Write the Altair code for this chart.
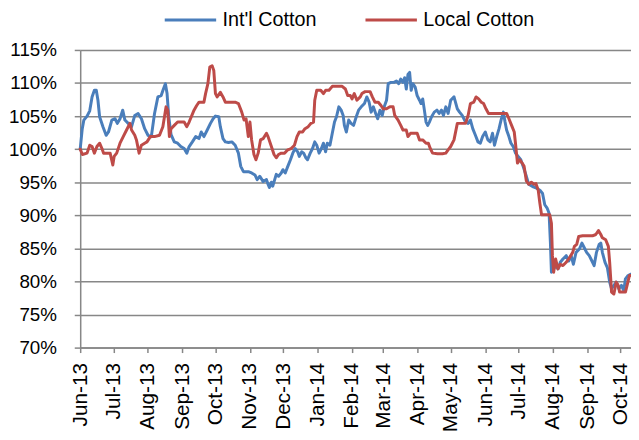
import altair as alt
import pandas as pd

START = "2013-06-01"

# Int'l Cotton: days since 1 Jun 2013, index value (%)
int_days = [0, 1.8, 3.3, 6.2, 8.6, 10.7, 12.8, 14.5, 16, 17.5, 20.5, 23.4, 25.5, 28.5, 31.4, 33.5, 35.9, 38.3, 40.3,
            43.3, 46.3, 49.2, 52.2, 55.2, 58.1, 61.1, 64.1, 67, 70, 73, 75, 76.8, 78.3, 79.8, 81.9,
            84.8, 87.8, 90.7, 93.7, 96.1, 98.2, 101.1, 104.1, 107.1, 109.1, 111.5, 114.5, 117.4, 119.8, 121.9,
            124.9, 126.3, 128.7, 130.8, 133.7, 136.7, 139.7, 142.6, 144.7, 147.1, 151.5, 154.5, 157.5, 159.5,
            161.9, 164.9, 167.9, 169.3, 170.5, 172.3, 173.5, 175.3, 176.7, 178.8, 181.2, 182.7, 184.8, 187.1,
            189.5, 191.6, 193.7, 196, 197.5, 199.6, 201.4, 203.4, 204.9, 207.3, 209.4, 211.4, 213.2, 215.3,
            217.4, 219.2, 221.2, 222.7, 225.1, 227.2, 229.2, 231, 233.1, 235.2, 237, 238.1, 239.9, 242, 244.1,
            246.4, 248.8, 250.9, 253.3, 256.2, 258.3, 260.4, 262.2, 264.2, 266.3, 268.1, 270.2, 272.2, 274,
            276.1, 277.6, 280, 282.9, 285, 287.1, 288.9, 290.9, 292.4, 293.9, 295.4, 296.9, 298.3, 299.8,
            301.9, 303.7, 305.8, 307.2, 308.7, 310.2, 311.7, 313.2, 314.7, 316.7, 319.1, 321.5, 323.5, 325.6,
            327.4, 329.5, 331.6, 333.9, 336.9, 339.9, 341.9, 344.3, 347.3, 349.6, 351.7, 353.8, 356.2,
            358.5, 360.6, 362.7, 365.1, 367.4, 369.5, 371.6, 373.4, 375.4, 377.5, 379.3, 381.4, 382.9, 384.3,
            386.4, 388.2, 390.3, 392.3, 394.7, 397.1, 399.2, 402.1, 404.2, 408.4, 411.3, 414.3, 416.7, 418.7,
            420.8, 422.6, 423.8, 424.7, 426.7, 428.5, 430.6, 432.7, 435.1, 438, 440.4, 442.5, 444.5, 446.9,
            449.9, 452.2, 454.3, 456.4, 458.8, 461.2, 463.2, 465.3, 467.7, 469.2, 470.6, 473, 475.1, 477.2,
            478.9, 481, 483.1, 485.5, 487.8, 489.9, 491.4, 493.8, 496.4]
int_vals = [100.0, 103.0, 104.4, 105.0, 105.8, 107.9, 108.9, 108.9, 107.4, 104.9, 103.4, 102.1, 102.6, 104.4, 104.6,
            103.9, 104.6, 105.9, 104.4, 103.9, 103.4, 105.1, 105.4, 104.6, 103.1, 102.1, 101.9, 105.4, 107.9,
            108.1, 109.1, 109.9, 108.4, 104.9, 102.2,
            101.1, 100.9, 100.4, 100.1, 99.4, 100.4, 101.1, 101.9, 101.6, 102.6, 101.9, 102.9, 103.9, 104.6, 105.0,
            104.9, 103.4, 101.6, 101.1, 101.0, 101.1, 100.6, 99.4, 97.4, 96.6, 96.6, 96.4, 96.1, 95.4,
            95.9, 95.1, 95.4, 94.7, 94.2, 95.0, 94.4, 95.4, 96.2, 95.9, 96.4, 96.9, 96.4, 97.4,
            98.4, 99.4, 100.1, 99.6, 98.9, 99.6, 99.4, 98.7, 98.4, 99.4, 100.1, 101.1, 100.6, 99.4,
            100.1, 100.9, 99.6, 100.9, 100.6, 102.4, 104.1, 104.9, 106.4, 105.9, 105.1, 103.6, 102.6, 104.4, 103.9,
            103.6, 104.9, 105.9, 106.4, 106.9, 107.9, 107.1, 105.6, 106.4, 105.4, 104.6, 105.9, 105.1, 106.4,
            107.4, 109.9, 110.1, 110.1, 110.3, 109.9, 110.6, 110.1, 110.8, 109.1, 111.3, 111.6, 108.9, 109.9,
            109.4, 108.1, 107.4, 106.9, 107.6, 105.9, 104.1, 103.6, 104.1, 104.9, 105.6, 105.9, 105.4, 105.9,
            105.1, 106.4, 105.4, 107.4, 107.9, 106.1, 105.6, 105.1, 104.1, 103.9, 104.4, 103.1, 102.1,
            101.1, 100.9, 101.9, 102.6, 101.4, 101.1, 102.4, 100.6, 101.9, 103.1, 104.4, 105.6, 104.1, 102.9,
            101.9, 100.9, 100.4, 99.4, 98.9, 98.4, 97.4, 95.9, 94.7, 94.3, 94.1, 93.8, 93.3, 91.6,
            91.1, 90.3, 85.8, 81.4, 81.9, 82.4, 81.9, 82.9, 83.4, 83.9, 83.1, 83.9, 82.6, 84.4,
            84.9, 85.8, 85.1, 84.4, 83.9, 83.1, 82.4, 84.4, 85.6, 85.8, 84.4, 82.9, 82.1, 79.9,
            78.9, 79.4, 79.9, 78.9, 79.4, 78.6, 80.4, 80.9, 81.1]

# Local Cotton
loc_days = [0, 2, 6.2, 8.6, 10.7, 12.8, 15.1, 17.5, 19.6, 21.1, 24, 27, 29.4, 30.6, 32.9, 35.9, 38.8, 41.8, 44.8,
            46.3, 49.2, 50.7, 53.1, 55.2, 58.1, 60.2, 63.2, 67, 71.5, 74.5, 77.4, 78.9, 80.4, 81.9,
            84.8, 87.8, 93.7, 96.1, 98.2, 102.6, 105, 107.1, 111.5, 113, 115.1, 116.8, 118.9, 120.4, 121.9,
            123.4, 126.3, 128.7, 130.8, 133.7, 139.7, 142.6, 145.6, 147.7, 149.5, 151.5, 153, 154.5, 156.6,
            158.4, 160.4, 162.5, 164.9, 167.9, 169.3, 172.3, 174.7, 176.7, 178.8, 181.2, 184.2, 187.1,
            190.1, 193.1, 195.4, 197.5, 200.5, 202.6, 205.5, 207.9, 210.3, 211.4, 213.2, 216.8, 219.2,
            221.2, 224.2, 227.2, 231.6, 236.1, 239, 241.1, 243.5, 245, 247, 249.4, 252.4, 253.9, 256.8,
            261.3, 263.3, 265.7, 268.7, 271.1, 273.1, 276.1, 279.1, 282, 283.5, 286.5, 288.9, 290.9,
            293.9, 295.4, 297.7, 301.3, 303.7, 305.8, 308.7, 311.7, 313.8, 315.5, 317.6, 322.1, 326.5,
            329.5, 331.6, 333.9, 336.9, 339.9, 342.8, 347.3, 349.6, 351.7, 354.7, 356.8, 359.1, 361.5,
            363.6, 365.7, 368, 371, 375.4, 379.9, 384.3, 386.4, 388.8, 391.2, 392.3, 394.1, 396.2, 398.3,
            400.1, 402.1, 404.2, 406.6, 409, 410.7, 412.8, 414.3, 415.8, 418.7, 423.2, 424.7, 425.6,
            426.7, 428.5, 430.6, 432.7, 435.1, 438, 441, 443.9, 445.4, 447.5, 449.3, 452.8, 457.3, 461.7,
            464.7, 467.1, 469.2, 470.6, 473.6, 476, 477.2, 478.9, 481, 483.1, 484.9, 486.1, 488.4, 491.4,
            492.9, 495, 496.4]
loc_vals = [100.0, 99.2, 99.4, 100.6, 100.4, 99.4, 100.4, 100.9, 100.1, 99.4, 99.4, 99.4, 97.6, 98.9, 99.4, 100.9,
            101.9, 102.9, 103.9, 102.9, 102.1, 101.4, 99.4, 100.6, 100.9, 101.1, 101.9, 101.9, 102.1, 103.4,
            106.4, 105.9, 101.9, 103.1,
            103.6, 104.1, 104.1, 103.4, 104.1, 105.9, 106.6, 107.1, 107.1, 108.4, 109.9, 112.4, 112.6, 111.9, 108.4,
            107.9, 108.6, 107.9, 107.1, 107.1, 107.1, 106.9, 105.6, 104.4, 104.6, 101.9, 104.1, 101.4, 99.2,
            98.4, 99.4, 101.4, 101.6, 102.4, 101.9, 100.4, 99.2, 98.7, 99.2, 99.4, 99.4, 99.9,
            100.1, 100.6, 101.9, 102.6, 102.6, 103.1, 103.4, 103.9, 104.1, 107.4, 108.9, 108.9, 108.4,
            108.9, 108.9, 109.5, 109.5, 109.5, 109.1, 108.1, 108.1, 107.6, 108.4, 107.4, 107.9, 108.4, 108.7,
            108.7, 107.9, 107.1, 107.1, 106.6, 106.1, 106.1, 106.4, 106.4, 105.1, 104.4, 103.6, 102.9,
            102.9, 101.9, 102.4, 102.4, 102.4, 101.4, 101.4, 100.9, 100.9, 100.1, 99.4, 99.3, 99.3,
            99.4, 99.9, 100.4, 101.4, 103.9, 103.9, 103.9, 105.1, 106.9, 107.1, 107.9, 107.6, 107.1,
            106.9, 106.1, 105.4, 105.4, 105.4, 105.4, 105.4, 104.6, 103.6, 102.6, 100.9, 97.9, 98.4, 97.9,
            97.4, 95.2, 94.7, 95.0, 94.7, 94.8, 93.8, 91.8, 90.1, 90.1, 90.1, 88.8, 83.9,
            81.4, 83.4, 81.9, 82.6, 82.4, 82.9, 83.6, 84.4, 85.3, 85.6, 86.8, 86.9, 86.9, 86.9,
            87.1, 87.7, 87.1, 86.6, 86.3, 85.3, 82.9, 78.4, 78.1, 79.9, 79.4, 78.4, 78.4, 78.4,
            79.4, 80.9, 80.9]

series_names = ["Int'l Cotton", "Local Cotton"]
series_colors = ["#4A7EBB", "#BE4B48"]
y_ticks = [70, 75, 80, 85, 90, 95, 100, 105, 110, 115]
month_ticks = [(2013, m) for m in range(6, 13)] + [(2014, m) for m in range(1, 11)]

def frame(days, vals, name):
    d = pd.Timestamp(START) + pd.to_timedelta(pd.Series(days, dtype=float), unit="D")
    return pd.DataFrame({"date": d, "value": vals, "series": name})

df = pd.concat([frame(int_days, int_vals, series_names[0]),
                frame(loc_days, loc_vals, series_names[1])], ignore_index=True)

FONT = "Liberation Sans"
GRAY = "#878787"

chart = alt.Chart(df).mark_line(strokeWidth=3, strokeJoin="round", strokeCap="round").encode(
    x=alt.X("date:T",
            scale=alt.Scale(domain=[alt.DateTime(year=2013, month=6, date=1),
                                    alt.DateTime(year=2014, month=10, date=10, hours=10)], nice=False),
            axis=alt.Axis(values=[alt.DateTime(year=y, month=m, date=1) for y, m in month_ticks],
                          format="%b-%y", labelAngle=-90, labelAlign="right", labelBaseline="middle",
                          labelFont=FONT, labelFontSize=21, labelColor="#000000", labelPadding=10,
                          tickSize=5, tickColor=GRAY, tickWidth=1.5, domainColor=GRAY, domainWidth=1.5,
                          grid=False, title=None, labelOverlap=False)),
    y=alt.Y("value:Q",
            scale=alt.Scale(domain=[70, 115], nice=False, zero=False),
            axis=alt.Axis(values=y_ticks, labelExpr="datum.value + '%'",
                          labelFont=FONT, labelFontSize=19, labelColor="#000000", labelPadding=18,
                          tickSize=6, tickColor=GRAY, tickWidth=1.5, domainColor=GRAY, domainWidth=1.5,
                          grid=True, gridColor=GRAY, gridWidth=1.5, title=None)),
    color=alt.Color("series:N",
                    scale=alt.Scale(domain=series_names, range=series_colors),
                    legend=alt.Legend(orient="none", legendX=84, legendY=-58, direction="horizontal",
                                      title=None, symbolType="stroke", symbolSize=2704, symbolStrokeWidth=3,
                                      labelFont=FONT, labelFontSize=20, labelColor="#000000",
                                      labelOffset=5, columnPadding=43, padding=0)),
).properties(
    width=557, height=301,
    autosize="none",
    padding={"left": 73, "top": 40, "right": 0, "bottom": 91},
).configure_view(stroke=None).configure(background="white")

chart.save("out.html", embed_options={"renderer": "svg", "actions": False})
